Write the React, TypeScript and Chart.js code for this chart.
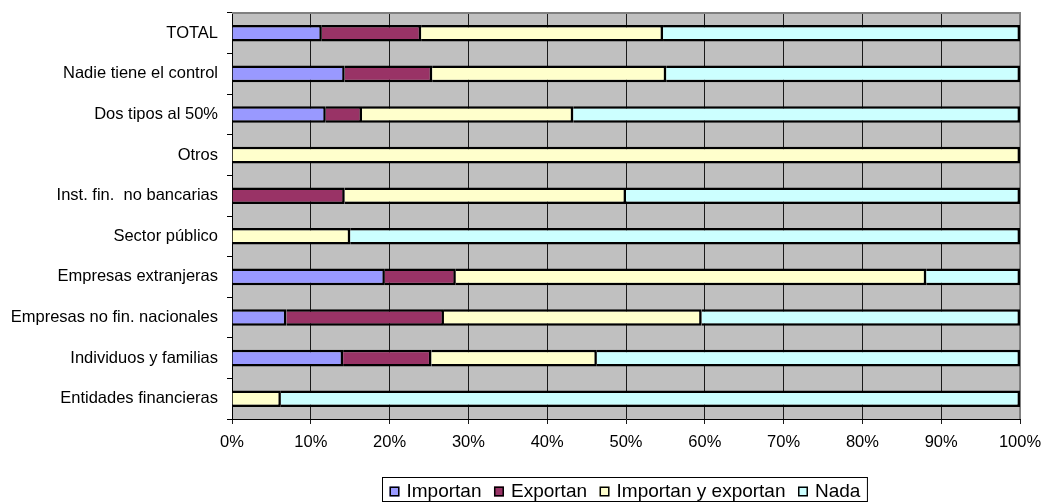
import React, { useEffect, useRef } from 'react';
import { Chart, registerables } from 'chart.js';

Chart.register(...registerables);

const categories = [
  'TOTAL',
  'Nadie tiene el control',
  'Dos tipos al 50%',
  'Otros',
  'Inst. fin.  no bancarias',
  'Sector público',
  'Empresas extranjeras',
  'Empresas no fin. nacionales',
  'Individuos y familias',
  'Entidades financieras',
];

const seriesNames = ['Importan', 'Exportan', 'Importan y exportan', 'Nada'];
const importan = [11.4, 14.3, 11.9, 0, 0, 0, 19.4, 6.9, 14.1, 0];
const exportan = [12.6, 11.1, 4.6, 0, 14.3, 0, 9.0, 20.0, 11.2, 0];
const importanYExportan = [30.7, 29.7, 26.8, 100, 35.7, 15.0, 59.7, 32.7, 21.0, 6.2];
const nada = [45.3, 44.9, 56.7, 0, 50.0, 85.0, 11.9, 40.4, 53.7, 93.8];
const seriesColors = ['#9999FF', '#993366', '#FFFFCC', '#CCFFFF'];
const xTickValues = [0, 10, 20, 30, 40, 50, 60, 70, 80, 90, 100];

const FONT = "'Liberation Sans', Arial, sans-serif";

const plotBackground = {
  id: 'plotBackground',
  beforeDraw(chart: any) {
    const { ctx, chartArea: a } = chart;
    ctx.save();
    ctx.fillStyle = '#C0C0C0';
    ctx.fillRect(a.left, a.top, a.right - a.left, a.bottom - a.top);
    ctx.restore();
  },
};

const plotBorder = {
  id: 'plotBorder',
  beforeDatasetsDraw(chart: any) {
    const { ctx, chartArea: a } = chart;
    ctx.save();
    ctx.strokeStyle = '#808080';
    ctx.lineWidth = 2;
    ctx.beginPath();
    ctx.moveTo(a.left, a.top);
    ctx.lineTo(a.right, a.top);
    ctx.lineTo(a.right, a.bottom);
    ctx.stroke();
    ctx.restore();
  },
};

const boxedLegend = {
  id: 'boxedLegend',
  afterDraw(chart: any) {
    const { ctx, chartArea: a } = chart;
    const ds = chart.data.datasets;
    ctx.save();
    ctx.font = `19px ${FONT}`;
    const sq = 10;
    const gapText = 7;
    const gapItem = 12.5;
    const padX = 7;
    const widths = ds.map((d: any) => ctx.measureText(d.label).width);
    let total = padX * 2;
    widths.forEach((w: number, i: number) => {
      total += sq + gapText + w + (i < widths.length - 1 ? gapItem : 0);
    });
    const cx = (a.left + a.right) / 2 - 2;
    const left = Math.round(cx - total / 2) + 0.5;
    const top = 477.5;
    const h = 24;
    ctx.strokeStyle = '#000';
    ctx.lineWidth = 1;
    ctx.strokeRect(left, top, total, h);
    const cy = top + h / 2 + 2;
    let x = left + padX;
    ds.forEach((d: any, i: number) => {
      ctx.fillStyle = d.backgroundColor;
      ctx.fillRect(x, cy - sq / 2, sq, sq);
      ctx.lineWidth = 1.5;
      ctx.strokeStyle = '#000';
      ctx.strokeRect(x + 0.75, cy - sq / 2 + 0.75, sq - 1.5, sq - 1.5);
      x += sq + gapText;
      ctx.fillStyle = '#000';
      ctx.textBaseline = 'middle';
      ctx.textAlign = 'left';
      ctx.fillText(d.label, x, cy);
      x += widths[i] + gapItem;
    });
    ctx.restore();
  },
};

export default function App() {
  const ref = useRef<HTMLCanvasElement | null>(null);

  useEffect(() => {
    if (!ref.current) return;
    const values = [importan, exportan, importanYExportan, nada];
    const chart = new Chart(ref.current, {
      type: 'bar',
      data: {
        labels: categories,
        datasets: seriesNames.map((name, i) => ({
          label: name,
          data: values[i],
          backgroundColor: seriesColors[i],
          borderColor: '#000',
          borderWidth: 2.5,
          borderSkipped: 'start',
          inflateAmount: 0,
          barPercentage: 0.41,
          categoryPercentage: 1,
        })),
      },
      options: {
        indexAxis: 'y',
        responsive: false,
        animation: false,
        devicePixelRatio: 1,
        layout: { padding: { top: 13, right: 23, bottom: 0, left: 0 } },
        plugins: {
          legend: { display: false },
          tooltip: { enabled: false },
        },
        scales: {
          x: {
            stacked: true,
            min: 0,
            max: 100,
            afterBuildTicks(scale: any) {
              scale.ticks = xTickValues.map((v) => ({ value: v }));
            },
            afterFit(scale: any) {
              scale.height = 83;
              scale.paddingLeft = 0;
              scale.paddingRight = 0;
            },
            ticks: {
              color: '#000',
              padding: 9,
              font: { family: FONT, size: 16.5 },
              callback: (v: any) => `${v}%`,
            },
            grid: {
              color: '#1a1a1a',
              lineWidth: 1,
              tickLength: 5,
              drawOnChartArea: true,
            },
            border: { color: '#000', width: 1 },
          },
          y: {
            stacked: true,
            afterFit(scale: any) {
              scale.width = 232;
              scale.paddingTop = 0;
              scale.paddingBottom = 0;
            },
            ticks: {
              color: '#000',
              padding: 9,
              font: { family: FONT, size: 16.5 },
            },
            grid: {
              offset: true,
              drawOnChartArea: false,
              drawTicks: true,
              tickLength: 5,
              color: '#000',
            },
            border: { color: '#000', width: 1 },
          },
        },
      },
      plugins: [plotBackground, plotBorder, boxedLegend],
    } as any);
    return () => chart.destroy();
  }, []);

  return (
    <div style={{ position: 'fixed', left: 0, top: 0, width: 1043, height: 502, background: '#fff' }}>
      <canvas ref={ref} width={1043} height={502} style={{ display: 'block' }} />
    </div>
  );
}
